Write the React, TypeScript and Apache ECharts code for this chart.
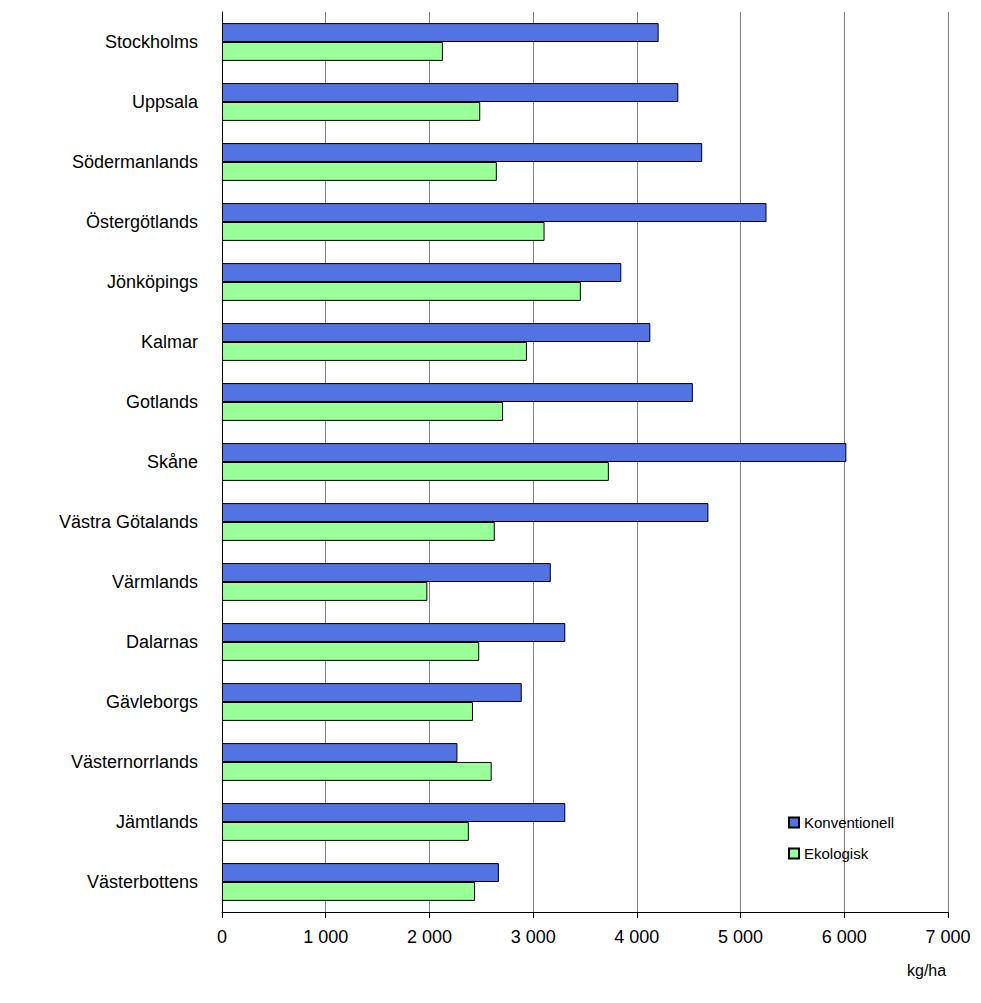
import { useEffect, useRef } from "react";
import * as echarts from "echarts";

const regions = [
  "Stockholms", "Uppsala", "Södermanlands", "Östergötlands", "Jönköpings",
  "Kalmar", "Gotlands", "Skåne", "Västra Götalands", "Värmlands",
  "Dalarnas", "Gävleborgs", "Västernorrlands", "Jämtlands", "Västerbottens",
];
const konventionell = [4210, 4400, 4630, 5250, 3850, 4130, 4540, 6020, 4690, 3170, 3310, 2890, 2270, 3310, 2670];
const ekologisk = [2130, 2490, 2650, 3110, 3460, 2940, 2710, 3730, 2630, 1980, 2480, 2420, 2600, 2380, 2440];

const font = "Liberation Sans, Arial, sans-serif";

export default function App() {
  const ref = useRef<HTMLDivElement>(null);

  useEffect(() => {
    document.body.style.margin = "0";
    if (!ref.current) return;
    const chart = echarts.init(ref.current, undefined, { renderer: "svg" });
    chart.setOption({
      animation: false,
      backgroundColor: "#fff",
      grid: { left: 222, top: 12, width: 726, height: 900 },
      legend: {
        orient: "vertical",
        left: 783,
        top: 810,
        itemWidth: 10,
        itemHeight: 10,
        itemGap: 16,
        icon: "rect",
        textStyle: { fontFamily: font, fontSize: 15, color: "#000" },
        data: ["Konventionell", "Ekologisk"],
      },
      xAxis: {
        type: "value",
        min: 0,
        max: 7000,
        interval: 1000,
        axisLine: { show: true, lineStyle: { color: "#000" } },
        axisTick: { show: true, length: 6, lineStyle: { color: "#000" } },
        splitLine: { lineStyle: { color: "#808080" } },
        axisLabel: {
          margin: 16,
          color: "#000",
          fontFamily: font,
          fontSize: 18,
          formatter: (v: number) => (v >= 1000 ? `${Math.floor(v / 1000)} ${String(v % 1000).padStart(3, "0")}` : `${v}`),
        },
      },
      yAxis: {
        type: "category",
        data: regions,
        inverse: true,
        axisLine: { lineStyle: { color: "#000" } },
        axisTick: { show: false },
        axisLabel: { margin: 24, color: "#000", fontFamily: font, fontSize: 18 },
      },
      series: [
        {
          name: "Konventionell",
          type: "bar",
          data: konventionell,
          barGap: "0%",
          barCategoryGap: "37%",
          itemStyle: { color: "#5473e3", borderColor: "#000", borderWidth: 1 },
        },
        {
          name: "Ekologisk",
          type: "bar",
          data: ekologisk,
          itemStyle: { color: "#99ff99", borderColor: "#000", borderWidth: 1 },
        },
      ],
      graphic: [
        {
          type: "text",
          left: 907,
          top: 962,
          style: { text: "kg/ha", fontFamily: font, fontSize: 16, fill: "#000" },
        },
      ],
    });
    return () => chart.dispose();
  }, []);

  return <div ref={ref} style={{ width: 981, height: 1003 }} />;
}
